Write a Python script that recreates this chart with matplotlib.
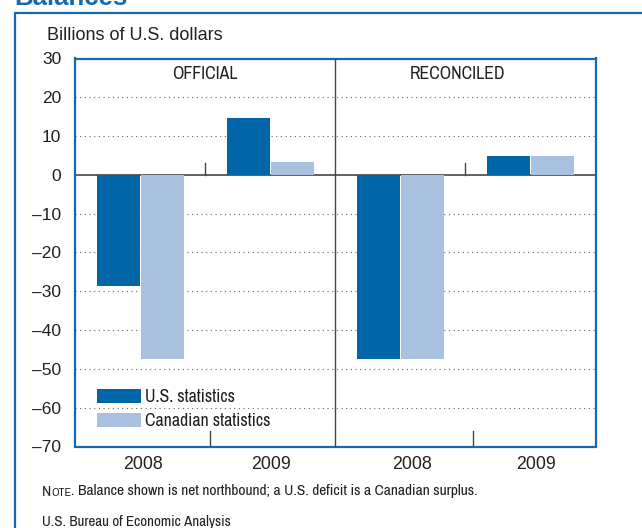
import matplotlib
matplotlib.use("Agg")
import matplotlib.pyplot as plt
from matplotlib.patches import Rectangle, Patch
from matplotlib import font_manager
from matplotlib.font_manager import FontProperties

# ---- data ----
panels = ["OFFICIAL", "RECONCILED"]
years = ["2008", "2009"]
us_official = [-28.7, 14.7]
ca_official = [-47.4, 3.4]
us_reconciled = [-47.5, 4.9]
ca_reconciled = [-47.5, 4.9]
yticks = [30, 20, 10, 0, -10, -20, -30, -40, -50, -60, -70]
series_labels = ["U.S. statistics", "Canadian statistics"]

US_COLOR = "#0066A8"
CA_COLOR = "#A7C1DF"
FRAME = "#1769AE"
TXT = "#231F20"
REG = "Liberation Sans"

# look for a narrow / condensed face
narrow_path = None
for f in font_manager.fontManager.ttflist:
    p = f.fname.lower()
    if "liberationsansnarrow-regular" in p or ("narrow" in p and "bold" not in p and "italic" not in p):
        narrow_path = f.fname
        break
if narrow_path is None:
    for f in font_manager.fontManager.ttflist:
        p = f.fname.lower()
        if "condensed" in p and "bold" not in p and "oblique" not in p and "italic" not in p:
            narrow_path = f.fname
            break

def nfont(size):
    if narrow_path:
        return FontProperties(fname=narrow_path, size=size)
    return FontProperties(family=REG, size=size * 0.87)

W, H = 642, 528
fig = plt.figure(figsize=(W / 100, H / 100), dpi=100)

def fx(px):
    return px / W

def fy(py):
    return 1 - py / H

# outer frame
fig.patches.append(Rectangle((fx(15), fy(600)), fx(700), fy(12.8) - fy(600),
                             transform=fig.transFigure, fill=False,
                             edgecolor=FRAME, linewidth=1.6, clip_on=False))
fig.text(fx(14), fy(5), "Balances", fontsize=18.5, fontweight="bold",
         color=FRAME, family=REG, ha="left", va="baseline")

ax = fig.add_axes([fx(75), fy(446.5), fx(595.5) - fx(75), fy(58.5) - fy(446.5)])
ax.set_xlim(0, 4)
ax.set_ylim(-70, 30)

w = 0.33
groups = [0.5, 1.5, 2.5, 3.5]
us_vals = us_official + us_reconciled
ca_vals = ca_official + ca_reconciled
for g, u, c in zip(groups, us_vals, ca_vals):
    ax.bar(g - w / 2, u, width=w, color=US_COLOR, zorder=3, linewidth=0)
    ax.bar(g + w / 2 + 0.005, c, width=w, color=CA_COLOR, zorder=3, linewidth=0)

for y in yticks:
    if y in (30, -70, 0):
        continue
    ax.axhline(y, color="#666666", linestyle=(0, (1, 3.2)), linewidth=0.8, zorder=1)
ax.axhline(0, color="#555555", linewidth=1.3, zorder=2)
ax.axvline(2.0, color="#444444", linewidth=1.0, zorder=4)
for xt in (1.0, 3.0):
    ax.plot([xt, xt], [0, 3.1], color="#444444", linewidth=1.0, zorder=2)
for xt in (1.04, 3.06):
    ax.plot([xt, xt], [-70, -66], color="#444444", linewidth=1.0, zorder=2)

for sp in ax.spines.values():
    sp.set_color(FRAME)
    sp.set_linewidth(1.6)

ax.set_yticks(yticks)
ax.set_yticklabels([str(v).replace("-", "\u2013") for v in yticks],
                   fontsize=12.5, family=REG, color=TXT)
ax.tick_params(axis="y", length=0, pad=10)
ax.set_xticks([0.52, 1.51, 2.59, 3.54])
ax.set_xticklabels(years + years, fontsize=12.8, family=REG, color=TXT)
ax.tick_params(axis="x", length=0, pad=6.5)

ax.text(1.0, 26.0, panels[0], ha="center", va="center", fontproperties=nfont(12.8),
        color=TXT)
ax.text(2.94, 26.0, panels[1], ha="center", va="center", fontproperties=nfont(12.8),
        color=TXT)

handles = [Patch(facecolor=US_COLOR, edgecolor="none"),
           Patch(facecolor=CA_COLOR, edgecolor="none")]
axw = 595.5 - 75
leg = ax.legend(handles, series_labels, loc="upper left",
                bbox_to_anchor=((97 - 75) / axw, 1 - (388.5 - 58.5) / 388),
                frameon=False, prop=nfont(12.8),
                handlelength=2.5, handleheight=0.85, handletextpad=0.2,
                labelspacing=0.45, borderaxespad=0, borderpad=0)
for t in leg.get_texts():
    t.set_color(TXT)

fig.text(fx(135), fy(36), "Billions of U.S. dollars", fontsize=13.0, family=REG,
         color=TXT, ha="center", va="center")

note_y = fy(495.5)
t1 = fig.text(fx(42), note_y, "N", fontproperties=nfont(11.2), color=TXT,
              ha="left", va="baseline")
fig.canvas.draw()
r = fig.canvas.get_renderer()
bb = t1.get_window_extent(r)
t2 = fig.text(bb.x1 / W, note_y, "OTE", fontproperties=nfont(8.5), color=TXT,
              ha="left", va="baseline")
bb2 = t2.get_window_extent(r)
fig.text(bb2.x1 / W, note_y,
         ". Balance shown is net northbound; a U.S. deficit is a Canadian surplus.",
         fontproperties=nfont(11.2), color=TXT, ha="left", va="baseline")
fig.text(fx(42), fy(526), "U.S. Bureau of Economic Analysis", fontproperties=nfont(10.8),
         color=TXT, ha="left", va="baseline")

fig.savefig("out.png", dpi=100)
